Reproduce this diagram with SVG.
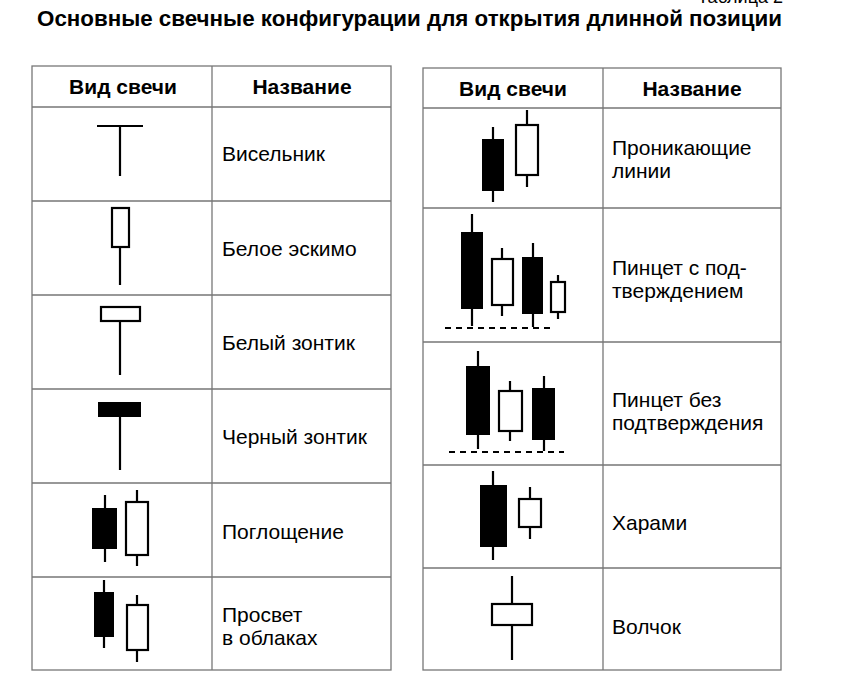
<svg xmlns="http://www.w3.org/2000/svg" width="841" height="695" viewBox="0 0 841 695">
<style>
text{font-family:"Liberation Sans",Arial,sans-serif;fill:#000}
.h{font-weight:bold;font-size:21px;text-anchor:middle}
.t{font-size:21px}
.g{stroke:#777;stroke-width:1.3;fill:none}
.w{stroke:#000;stroke-width:2.2}
.b{fill:#000;stroke:#000;stroke-width:2}
.o{fill:#fff;stroke:#000;stroke-width:2.2}
</style>
<rect width="841" height="695" fill="#fff"/>
<text x="783" y="3" font-size="18" text-anchor="end">Таблица 2</text>
<text x="37" y="26" font-size="22" font-weight="bold" textLength="745" lengthAdjust="spacingAndGlyphs">Основные свечные конфигурации для открытия длинной позиции</text>
<g id="table-left">
<rect class="g" x="32" y="66" width="359" height="604"/>
<line class="g" x1="212" y1="66" x2="212" y2="670"/>
<path class="g" d="M32 107H391M32 201H391M32 295H391M32 389H391M32 483H391M32 577H391"/>
<text class="h" x="123" y="94">Вид свечи</text>
<text class="h" x="302" y="94">Название</text>
</g>
<g id="table-right">
<rect class="g" x="423" y="68" width="358" height="602"/>
<line class="g" x1="603" y1="68" x2="603" y2="670"/>
<path class="g" d="M423 108H781M423 208H781M423 342H781M423 465H781M423 568H781"/>
<text class="h" x="513" y="96">Вид свечи</text>
<text class="h" x="692" y="96">Название</text>
</g>
<g id="row-l1"><path class="w" d="M97 126H143M120 126V176"/><text class="t" x="222" y="161">Висельник</text></g>
<g id="row-l2"><path class="w" d="M120 247V285"/><rect class="o" x="112" y="208" width="17" height="39"/><text class="t" x="222" y="256">Белое эскимо</text></g>
<g id="row-l3"><path class="w" d="M120 321V375"/><rect class="o" x="101" y="307" width="39" height="14"/><text class="t" x="222" y="350">Белый зонтик</text></g>
<g id="row-l4"><path class="w" d="M120 416V470"/><rect class="b" x="99" y="403" width="41" height="13"/><text class="t" x="222" y="444">Черный зонтик</text></g>
<g id="row-l5"><path class="w" d="M105 495V562M137 490V566"/><rect class="b" x="93" y="509" width="23" height="39"/><rect class="o" x="126" y="502" width="22" height="53"/><text class="t" x="222" y="539">Поглощение</text></g>
<g id="row-l6"><path class="w" d="M104 580V648M137 595V662"/><rect class="b" x="95" y="593" width="18" height="43"/><rect class="o" x="127" y="605" width="21" height="45"/><text class="t" x="222" y="622">Просвет</text><text class="t" x="222" y="645">в облаках</text></g>
<g id="row-r1"><path class="w" d="M493 127V202M527 110V187"/><rect class="b" x="483" y="140" width="20" height="50"/><rect class="o" x="516" y="125" width="22" height="50"/><text class="t" x="612" y="155">Проникающие</text><text class="t" x="612" y="178">линии</text></g>
<g id="row-r2"><path class="w" d="M472 214V326M502 248V316M533 243V327M558 275V319"/><rect class="b" x="462" y="233" width="20" height="75"/><rect class="o" x="492" y="259" width="21" height="46"/><rect class="b" x="523" y="258" width="19" height="55"/><rect class="o" x="551" y="282" width="14" height="30"/><line x1="445" y1="328" x2="553" y2="328" stroke="#000" stroke-width="2" stroke-dasharray="6,5"/><text class="t" x="612" y="275">Пинцет с под-</text><text class="t" x="612" y="298">тверждением</text></g>
<g id="row-r3"><path class="w" d="M478 351V449M510 381V441M544 376V451"/><rect class="b" x="467" y="367" width="22" height="67"/><rect class="o" x="499" y="391" width="23" height="40"/><rect class="b" x="533" y="389" width="21" height="50"/><line x1="449" y1="452" x2="564" y2="452" stroke="#000" stroke-width="2" stroke-dasharray="6,5"/><text class="t" x="612" y="407">Пинцет без</text><text class="t" x="612" y="430">подтверждения</text></g>
<g id="row-r4"><path class="w" d="M493 471V560M530 487V539"/><rect class="b" x="481" y="486" width="25" height="60"/><rect class="o" x="519" y="499" width="22" height="28"/><text class="t" x="612" y="530">Харами</text></g>
<g id="row-r5"><path class="w" d="M512 576V660"/><rect class="o" x="492" y="604" width="40" height="21"/><text class="t" x="612" y="634">Волчок</text></g>
</svg>
